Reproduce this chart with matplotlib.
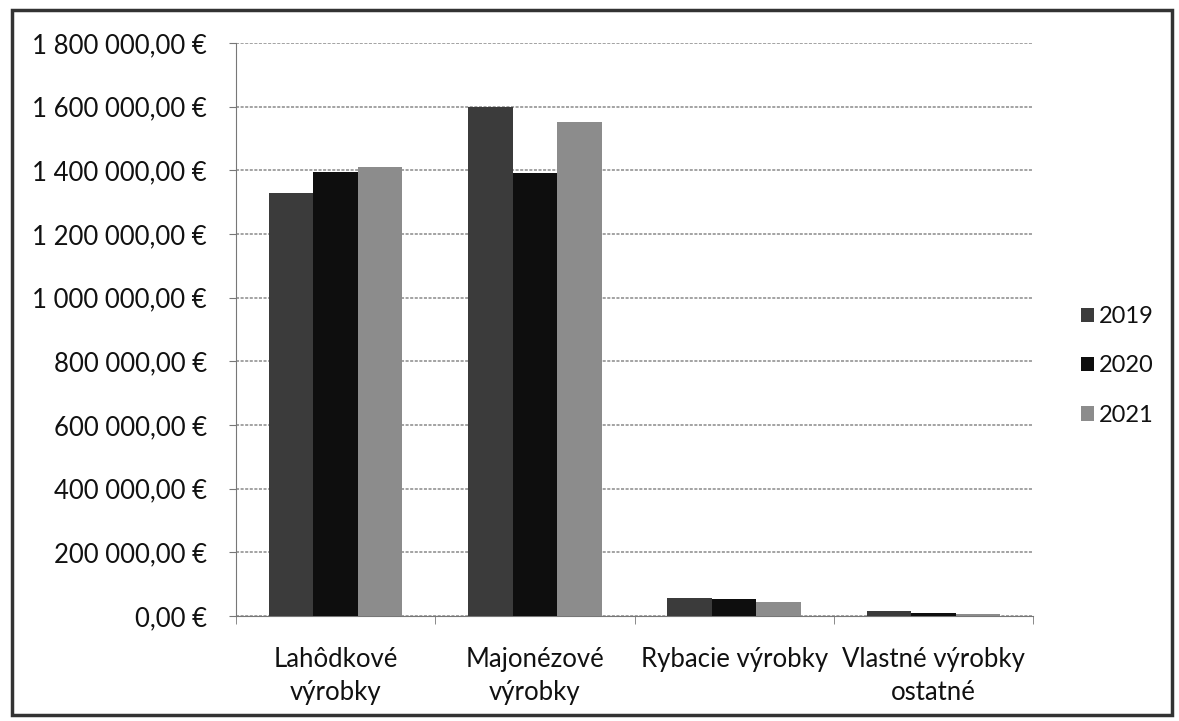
import matplotlib
matplotlib.use("Agg")
import matplotlib.pyplot as plt
from matplotlib.patches import Rectangle
from matplotlib.ticker import FuncFormatter, FixedLocator
import numpy as np

categories = ["Lahôdkové\nvýrobky", "Majonézové\nvýrobky", "Rybacie výrobky", "Vlastné výrobky\nostatné"]
years = ["2019", "2020", "2021"]
v2019 = [1330000, 1600000, 57000, 16000]
v2020 = [1395000, 1392000, 53000, 10000]
v2021 = [1410000, 1552000, 45000, 7000]
colors = ["#3b3b3b", "#0e0e0e", "#8c8c8c"]

plt.rcParams["font.family"] = ["Lato", "DejaVu Sans"]
plt.rcParams["text.color"] = "#111"

fig = plt.figure(figsize=(11.79, 7.21), dpi=100)
ax = fig.add_axes([236 / 1179, 1 - 616 / 721, (1033 - 236) / 1179, (616 - 43) / 721])

x = np.arange(len(categories))
width = 0.2237
for i, (vals, yr) in enumerate(zip([v2019, v2020, v2021], years)):
    ax.bar(x + (i - 1) * width, vals, width, color=colors[i], label=yr, zorder=3)

ax.set_xlim(-0.5, len(categories) - 0.5)
ax.set_ylim(0, 1800000)
ax.set_yticks(np.arange(0, 1800001, 200000))


def euro(v, pos):
    s = f"{int(v):,}".replace(",", " ")
    return s + ",00 €"


ax.yaxis.set_major_formatter(FuncFormatter(euro))
ax.grid(axis="y", color="#8a8a8a", lw=1.1, ls=(0, (2, 1)), zorder=0)
ax.set_xticks(x)
ax.set_xticklabels(categories, fontsize=18.5, linespacing=1.4, color="#111")
ax.xaxis.set_minor_locator(FixedLocator(np.arange(-0.5, len(categories), 1)))
ax.tick_params(axis="x", which="major", length=0, pad=22)
ax.tick_params(axis="x", which="minor", length=6, color="#777")
ax.tick_params(axis="y", length=5, color="#777", labelsize=18.5, labelcolor="#111", pad=16)

for s in ["top", "right"]:
    ax.spines[s].set_visible(False)
ax.spines["left"].set_color("#777")
ax.spines["bottom"].set_color("#777")

handles, labels = ax.get_legend_handles_labels()
fig.legend(handles, labels, loc="center left", bbox_to_anchor=(1072 / 1179, 1 - 366 / 721),
           frameon=False, fontsize=17, handlelength=0.55, handleheight=0.55,
           handletextpad=0.2, labelspacing=1.2, borderaxespad=0)

fig.patches.append(Rectangle((12 / 1179, 6 / 721), 1160 / 1179, 705 / 721, transform=fig.transFigure,
                             fill=False, edgecolor="#333", lw=2.5))

fig.savefig("out.png", dpi=100)
